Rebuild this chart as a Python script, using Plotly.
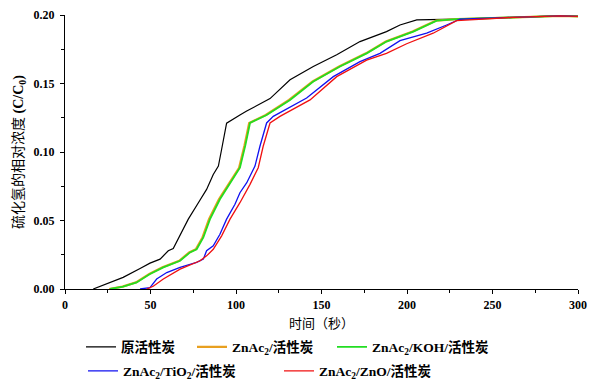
import plotly.graph_objects as go

# ---- data ----
black_x = [16.5, 24.4, 34.0, 43.9, 49.7, 55.6, 60.4, 63.3, 67.3, 72.1, 78.0, 82.8, 86.7, 89.7, 91.6, 94.5,
           102.3, 106.0, 119.9, 131.6, 145.2, 158.9, 172.5, 188.0, 195.9, 205.7, 229.0, 262.0, 289.5, 300.0]
black_y = [0.0, 0.0036, 0.0085, 0.015, 0.0189, 0.0218, 0.0279, 0.0296, 0.039, 0.051, 0.063, 0.0727, 0.0836,
           0.0897, 0.102, 0.121, 0.127, 0.1297, 0.139, 0.1527, 0.1624, 0.171, 0.1806, 0.1879, 0.1927, 0.1964,
           0.197, 0.1983, 0.1993, 0.199]

orange_x = [25.8, 33.6, 41.5, 49.3, 57.0, 66.8, 72.6, 76.5, 80.4, 84.2, 90.0, 96.0, 101.8, 105.0, 107.7,
            117.4, 131.0, 144.8, 160.3, 176.0, 187.6, 203.2, 217.0, 229.0, 262.0, 289.5, 300.0]
orange_y = [0.0, 0.0017, 0.0048, 0.011, 0.0158, 0.0206, 0.0267, 0.029, 0.0376, 0.051, 0.0655, 0.0776, 0.0885,
            0.105, 0.1212, 0.127, 0.138, 0.1515, 0.1624, 0.172, 0.1806, 0.1879, 0.1959, 0.197, 0.1983, 0.1993, 0.199]

green_x = [26.3, 34.0, 41.9, 49.7, 57.5, 67.3, 73.1, 77.0, 80.9, 84.8, 90.6, 96.5, 102.3, 105.5, 108.2,
           117.9, 131.6, 145.2, 160.8, 176.4, 188.0, 203.7, 217.4, 229.0, 262.0, 289.5, 300.0]
green_y = [0.0, 0.0017, 0.0048, 0.011, 0.0158, 0.0206, 0.0267, 0.029, 0.0376, 0.051, 0.0655, 0.0776, 0.0885,
           0.105, 0.1212, 0.127, 0.138, 0.1515, 0.1624, 0.172, 0.1806, 0.1879, 0.1959, 0.197, 0.1983, 0.1993, 0.199]

blue_x = [43.9, 49.7, 53.6, 59.5, 67.3, 77.0, 80.9, 82.8, 86.7, 90.6, 94.5, 99.4, 102.3, 106.3, 111.1, 114.0,
          117.9, 121.8, 141.3, 156.9, 172.5, 184.2, 195.9, 211.5, 223.2, 231.0, 262.0, 289.5, 300.0]
blue_y = [0.0, 0.001, 0.0073, 0.012, 0.0158, 0.0194, 0.0218, 0.0279, 0.0315, 0.04, 0.051, 0.0618, 0.0703,
          0.0776, 0.0897, 0.1042, 0.1212, 0.126, 0.1394, 0.155, 0.166, 0.172, 0.1813, 0.1867, 0.1927, 0.1969,
          0.1983, 0.1993, 0.199]

red_x = [47.8, 51.6, 57.5, 67.3, 79.0, 82.8, 86.7, 91.6, 96.5, 102.3, 108.2, 113.0, 115.9, 119.9, 125.7,
         143.3, 158.9, 176.4, 188.0, 199.8, 215.3, 229.0, 262.0, 289.5, 300.0]
red_y = [0.0, 0.002, 0.0073, 0.0145, 0.0206, 0.0242, 0.029, 0.0388, 0.051, 0.063, 0.0764, 0.0885, 0.1042,
         0.1212, 0.126, 0.138, 0.155, 0.167, 0.172, 0.179, 0.1867, 0.1959, 0.1983, 0.1993, 0.199]

names = ["<b>原活性炭</b>",
         "<b>ZnAc<sub>2</sub>/活性炭</b>",
         "<b>ZnAc<sub>2</sub>/KOH/活性炭</b>",
         "<b>ZnAc<sub>2</sub>/TiO<sub>2</sub>/活性炭</b>",
         "<b>ZnAc<sub>2</sub>/ZnO/活性炭</b>"]
colors = ["#000000", "#E8A020", "#22DD22", "#1010F0", "#F01010"]
widths = [1.2, 2.2, 1.8, 1.3, 1.3]

xs = [black_x, orange_x, green_x, blue_x, red_x]
ys = [black_y, orange_y, green_y, blue_y, red_y]

FONT = "Liberation Serif, Times New Roman, Noto Sans CJK SC, serif"

fig = go.Figure()
legend_ids = ["legend", "legend2", "legend3", "legend4", "legend5"]
for i in range(5):
    fig.add_trace(go.Scatter(x=xs[i], y=ys[i], mode="lines", name=names[i],
                             line=dict(color=colors[i], width=widths[i]),
                             legend=legend_ids[i]))

# legend placement (container coords): left edge px, row center px
leg_pos = [(73, 339), (184, 339), (324, 339), (75, 363), (271, 363)]
legend_common = dict(orientation="h", bgcolor="rgba(0,0,0,0)", borderwidth=0,
                     font=dict(family=FONT, size=13.5, color="#000"),
                     xref="container", yref="container", xanchor="left", yanchor="middle",
                     itemwidth=30, tracegroupgap=0)
leg_layout = {}
for lid, (px, py) in zip(legend_ids, leg_pos):
    leg_layout[lid] = dict(x=px / 600, y=1 - py / 385, **legend_common)

fig.update_layout(
    width=600, height=385,
    margin=dict(l=56.5, r=30, t=7, b=103.5, autoexpand=False),
    paper_bgcolor="white", plot_bgcolor="white",
    font=dict(family=FONT, color="#000"),
    showlegend=True,
    **leg_layout,
)

fig.update_xaxes(range=[0, 300], dtick=50, tick0=0, automargin=False,
                 showline=True, linecolor="#000", linewidth=1.2, mirror=False,
                 ticks="outside", ticklen=4, tickwidth=1.2, tickcolor="#000",
                 minor=dict(ticks="outside", ticklen=2.5, dtick=25, tickcolor="#000", tickwidth=1),
                 showgrid=False, zeroline=False,
                 tickfont=dict(family=FONT, size=12, weight="bold"),
                 title=dict(text="时间（秒）", font=dict(family=FONT, size=13), standoff=19))
fig.update_yaxes(range=[0, 0.20], dtick=0.05, tick0=0, tickformat=".2f", automargin=False,
                 showline=True, linecolor="#000", linewidth=1.2, mirror=False,
                 ticks="outside", ticklen=4, tickwidth=1.2, tickcolor="#000",
                 minor=dict(ticks="outside", ticklen=2.5, dtick=0.025, tickcolor="#000", tickwidth=1),
                 showgrid=False, zeroline=False, ticklabelstandoff=3,
                 tickfont=dict(family=FONT, size=12, weight="bold"),
                 title=dict(text="硫化氢的相对浓度 <b>(C/C<sub>0</sub>)</b>",
                            font=dict(family=FONT, size=14), standoff=6))

fig.write_html("out.html")
